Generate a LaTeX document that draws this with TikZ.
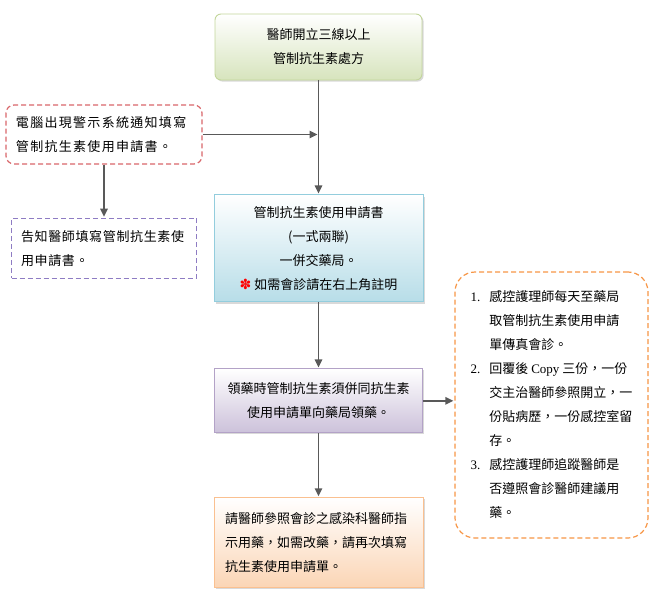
\documentclass[tikz,border=0pt]{standalone}
\usepackage{fontspec}
\setmainfont{Liberation Serif}
\newfontfamily\cjk{Noto Sans CJK TC}
\newfontfamily\cjkwide[LetterSpace=10]{Noto Sans CJK TC}
\newfontfamily\cjkmid[LetterSpace=5]{Noto Sans CJK TC}
\newfontfamily\symb{DejaVu Sans}
\usepackage{tikz}
\usetikzlibrary{arrows.meta, positioning, shadows}

\definecolor{arrowgray}{HTML}{595959}
\definecolor{greenline}{HTML}{C3D69B}
\definecolor{greenfill}{HTML}{D7E4BD}
\definecolor{blueline}{HTML}{93CDDD}
\definecolor{bluefill}{HTML}{B7DDE8}
\definecolor{purpleline}{HTML}{B3A2C7}
\definecolor{purplefill}{HTML}{CCC1DA}
\definecolor{orangeline}{HTML}{FAC090}
\definecolor{orangefill}{HTML}{FBD5B5}
\definecolor{reddash}{HTML}{D9666A}
\definecolor{violetdash}{HTML}{8E7CC3}
\definecolor{orangedash}{HTML}{F79646}

\begin{document}
\begin{tikzpicture}[x=1pt, y=1pt,
    txt/.style={font=\cjk\fontsize{13}{24}\selectfont},
    box/.style={txt, draw, line width=0.9pt, shading=axis, top color=white,
        drop shadow={shadow xshift=1.6pt, shadow yshift=-1.6pt, opacity=0.3},
        inner sep=0pt, align=center},
    dashbox/.style={txt, draw, line width=1.2pt, dash pattern=on 5pt off 3pt,
        fill=white, inner ysep=0pt, align=left},
    arrow/.style={-{Triangle[length=8pt,width=7.5pt]}, line width=1.5pt, draw=arrowgray,
        shorten >=1pt}]

    \useasboundingbox (0,0) rectangle (658,-602);

    \node (top) [box, rounded corners=6pt, draw=greenline, bottom color=greenfill,
        minimum width=207pt, minimum height=66pt] at (318.5,-47)
        {醫師開立三線以上\\管制抗生素處方};
    \node (chk) [box, draw=blueline, bottom color=bluefill,
        minimum width=209pt, minimum height=107pt, below=114pt of top]
        {管制抗生素使用申請書\\(一式兩聯)\\一併交藥局。\\{\symb\color{red}\fontsize{14}{24}\selectfont\bfseries ✽} 如需會診請在右上角註明};
    \node (drug) [box, draw=purpleline, bottom color=purplefill,
        minimum width=208pt, minimum height=64pt, below=66pt of chk]
        {領藥時管制抗生素須併同抗生素\\使用申請單向藥局領藥。};
    \node (dose) [box, draw=orangeline, bottom color=orangefill, align=left,
        text width=187pt, inner xsep=11pt, minimum height=90pt, below=64pt of drug]
        {請醫師參照會診之感染科醫師指\\示用藥，如需改藥，請再次填寫\\抗生素使用申請單。};

    \node (warn) [dashbox, draw=reddash, rounded corners=8pt, font=\cjkwide\fontsize{13}{24}\selectfont,
        text width=176pt, inner xsep=10pt, minimum height=59pt] at (104,-134.5)
        {電腦出現警示系統通知填寫\\管制抗生素使用申請書。};
    \node (tell) [dashbox, draw=violetdash, font=\cjkmid\fontsize{13}{24}\selectfont,
        text width=166pt, inner xsep=9.5pt, minimum height=60pt, below=53pt of warn]
        {告知醫師填寫管制抗生素使\\用申請書。};

    \node (note) [dashbox, draw=orangedash, rounded corners=20pt,
        minimum width=193pt, minimum height=266pt, inner xsep=0pt] at (551.5,-405)
        {\begin{tabular}{@{}r@{\hspace{9pt}}l@{}}
        {\rmfamily 1.} & 感控護理師每天至藥局\\
         & 取管制抗生素使用申請\\
         & 單傳真會診。\\
        {\rmfamily 2.} & 回覆後 {\rmfamily Copy} 三份，一份\\
         & 交主治醫師參照開立，一\\
         & 份貼病歷，一份感控室留\\
         & 存。\\
        {\rmfamily 3.} & 感控護理師追蹤醫師是\\
         & 否遵照會診醫師建議用\\
         & 藥。
        \end{tabular}};

    \coordinate (join) at (warn.east -| top.south);
    \coordinate (hit) at (drug.east -| note.west);

    \draw [arrow] (top) -- (chk);
    \draw [arrow] (chk) -- (drug);
    \draw [arrow] (drug) -- (dose);
    \draw [arrow] (warn) -- (tell);
    \draw [arrow] (warn.east) -- (join);
    \draw [arrow] (drug.east) -- (hit);
\end{tikzpicture}
\end{document}
